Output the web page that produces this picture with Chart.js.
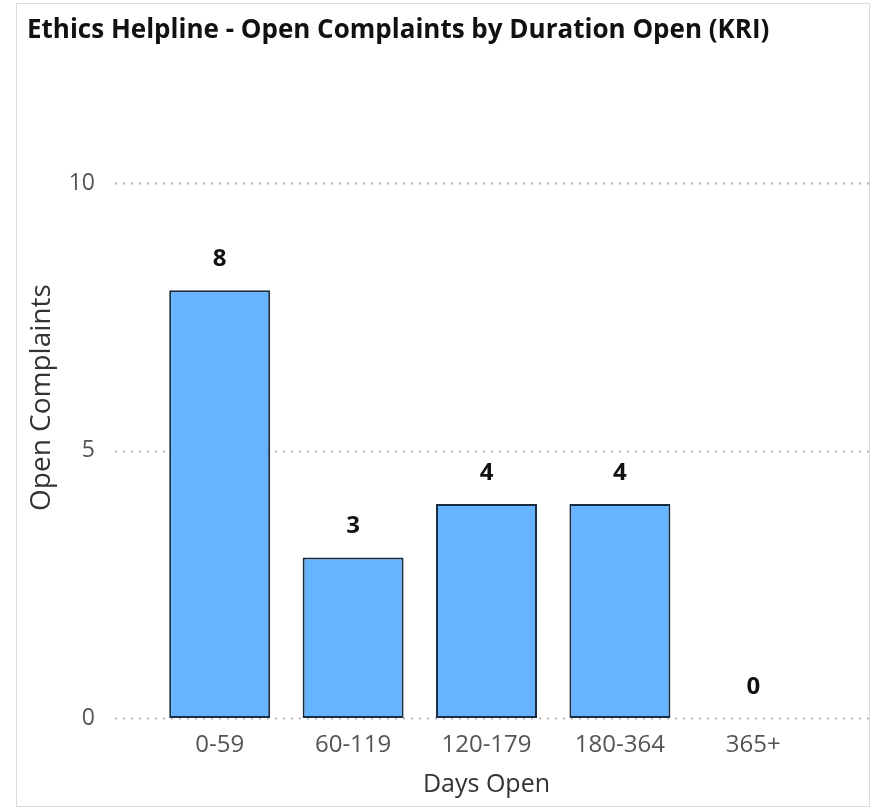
<!DOCTYPE html>
<html>
<head>
<meta charset="utf-8">
<script src="https://cdn.jsdelivr.net/npm/chart.js@4"></script>
<style>
  html, body { margin: 0; padding: 0; background: #fff; }
  #wrap { position: relative; width: 874px; height: 809px; }
  #frame { position: absolute; left: 16px; top: 3px; width: 852px; height: 802px; border: 1px solid #dcdcdc; }
  canvas { position: absolute; left: 0; top: 0; }
</style>
</head>
<body>
<div id="wrap">
  <div id="frame"></div>
  <canvas id="chart" width="874" height="809"></canvas>
</div>
<script>
const categories = ["0-59", "60-119", "120-179", "180-364", "365+"];
const openComplaints = [8, 3, 4, 4, 0];
const yTicks = [0, 5, 10];
const yTitle = "Open Complaints";

const FONT = "'Open Sans', 'Noto Sans', sans-serif";

// dotted gridlines that run past the plot area, like the original
const dottedGrid = {
    id: "dottedGrid",
    beforeDatasetsDraw(chart) {
        const { ctx, chartArea, scales } = chart;
        ctx.save();
        ctx.strokeStyle = "#b5b5b5";
        ctx.lineWidth = 2;
        ctx.setLineDash([2, 6]);
        yTicks.forEach(v => {
            const y = Math.round(scales.y.getPixelForValue(v)) + 0.5;
            ctx.beginPath();
            ctx.moveTo(chartArea.left - 38, y);
            ctx.lineTo(chartArea.right + 50, y);
            ctx.stroke();
        });
        ctx.restore();
    }
};

const barLabels = {
    id: "barLabels",
    afterDatasetsDraw(chart) {
        const { ctx } = chart;
        const meta = chart.getDatasetMeta(0);
        ctx.save();
        ctx.font = "bold 24px " + FONT;
        ctx.fillStyle = "#111";
        ctx.textAlign = "center";
        ctx.textBaseline = "middle";
        meta.data.forEach((bar, i) => {
            ctx.fillText(String(openComplaints[i]), bar.x, bar.y - 31);
        });
        ctx.restore();
    }
};

/* y title sits above the middle of the plot in the original, so draw it by hand */
const yAxisTitle = {
    id: "yAxisTitle",
    afterDraw(chart) {
        const { ctx, chartArea, scales } = chart;
        const mid = (chartArea.top + chartArea.bottom) / 2 - 53;
        ctx.save();
        ctx.translate(scales.y.left + 15, mid);
        ctx.rotate(-Math.PI / 2);
        ctx.font = "28px " + FONT;
        ctx.fillStyle = "#333";
        ctx.textAlign = "center";
        ctx.textBaseline = "middle";
        ctx.fillText(yTitle, 0, 0);
        ctx.restore();
    }
};

function createChart(canvasId, labels, datasets, type, extraOptions = {}) {
    const canvas = document.getElementById(canvasId);
    if (!canvas) {
        console.error(`No canvas with id ${canvasId}`);
        return null;
    }
    return new Chart(canvas.getContext("2d"), {
        type: type,
        data: { labels: labels, datasets: datasets },
        options: {
            responsive: false,
            animation: false,
            ...extraOptions,
        },
        plugins: [dottedGrid, barLabels, yAxisTitle],
    });
}

createChart("chart", categories, [{
    data: openComplaints,
    backgroundColor: "#66b3ff",
    borderColor: "#1a2d40",
    borderWidth: 2,
    borderSkipped: false,
    categoryPercentage: 1,
    barPercentage: 0.757,
}], "bar", {
    layout: { padding: { left: 27, right: 54, top: 0, bottom: 0 } },
    plugins: {
        legend: { display: false },
        tooltip: { enabled: false },
        title: {
            display: true,
            text: "Ethics Helpline - Open Complaints by Duration Open (KRI)",
            align: "start",
            color: "#111",
            font: { family: FONT, size: 26, weight: "bold", lineHeight: 1.2 },
            padding: { top: 15, bottom: 137 },
        },
    },
    scales: {
        x: {
            grid: { display: false, drawTicks: false },
            border: { display: false },
            ticks: { color: "#555", padding: 13, font: { family: FONT, size: 24 } },
            title: {
                display: true,
                text: "Days Open",
                color: "#333",
                font: { family: FONT, size: 25 },
                padding: { top: 0, bottom: 9 },
            },
            afterFit(scale) { scale.height = 91; },
        },
        y: {
            min: 0,
            max: 10,
            grid: { display: false, drawTicks: false },
            border: { display: false },
            ticks: {
                stepSize: 5,
                color: "#555",
                padding: 58,
                font: { family: FONT, size: 23 },
            },
            title: { display: false },
            afterFit(scale) { scale.width = 126; },
        },
    },
});
</script>
</body>
</html>
